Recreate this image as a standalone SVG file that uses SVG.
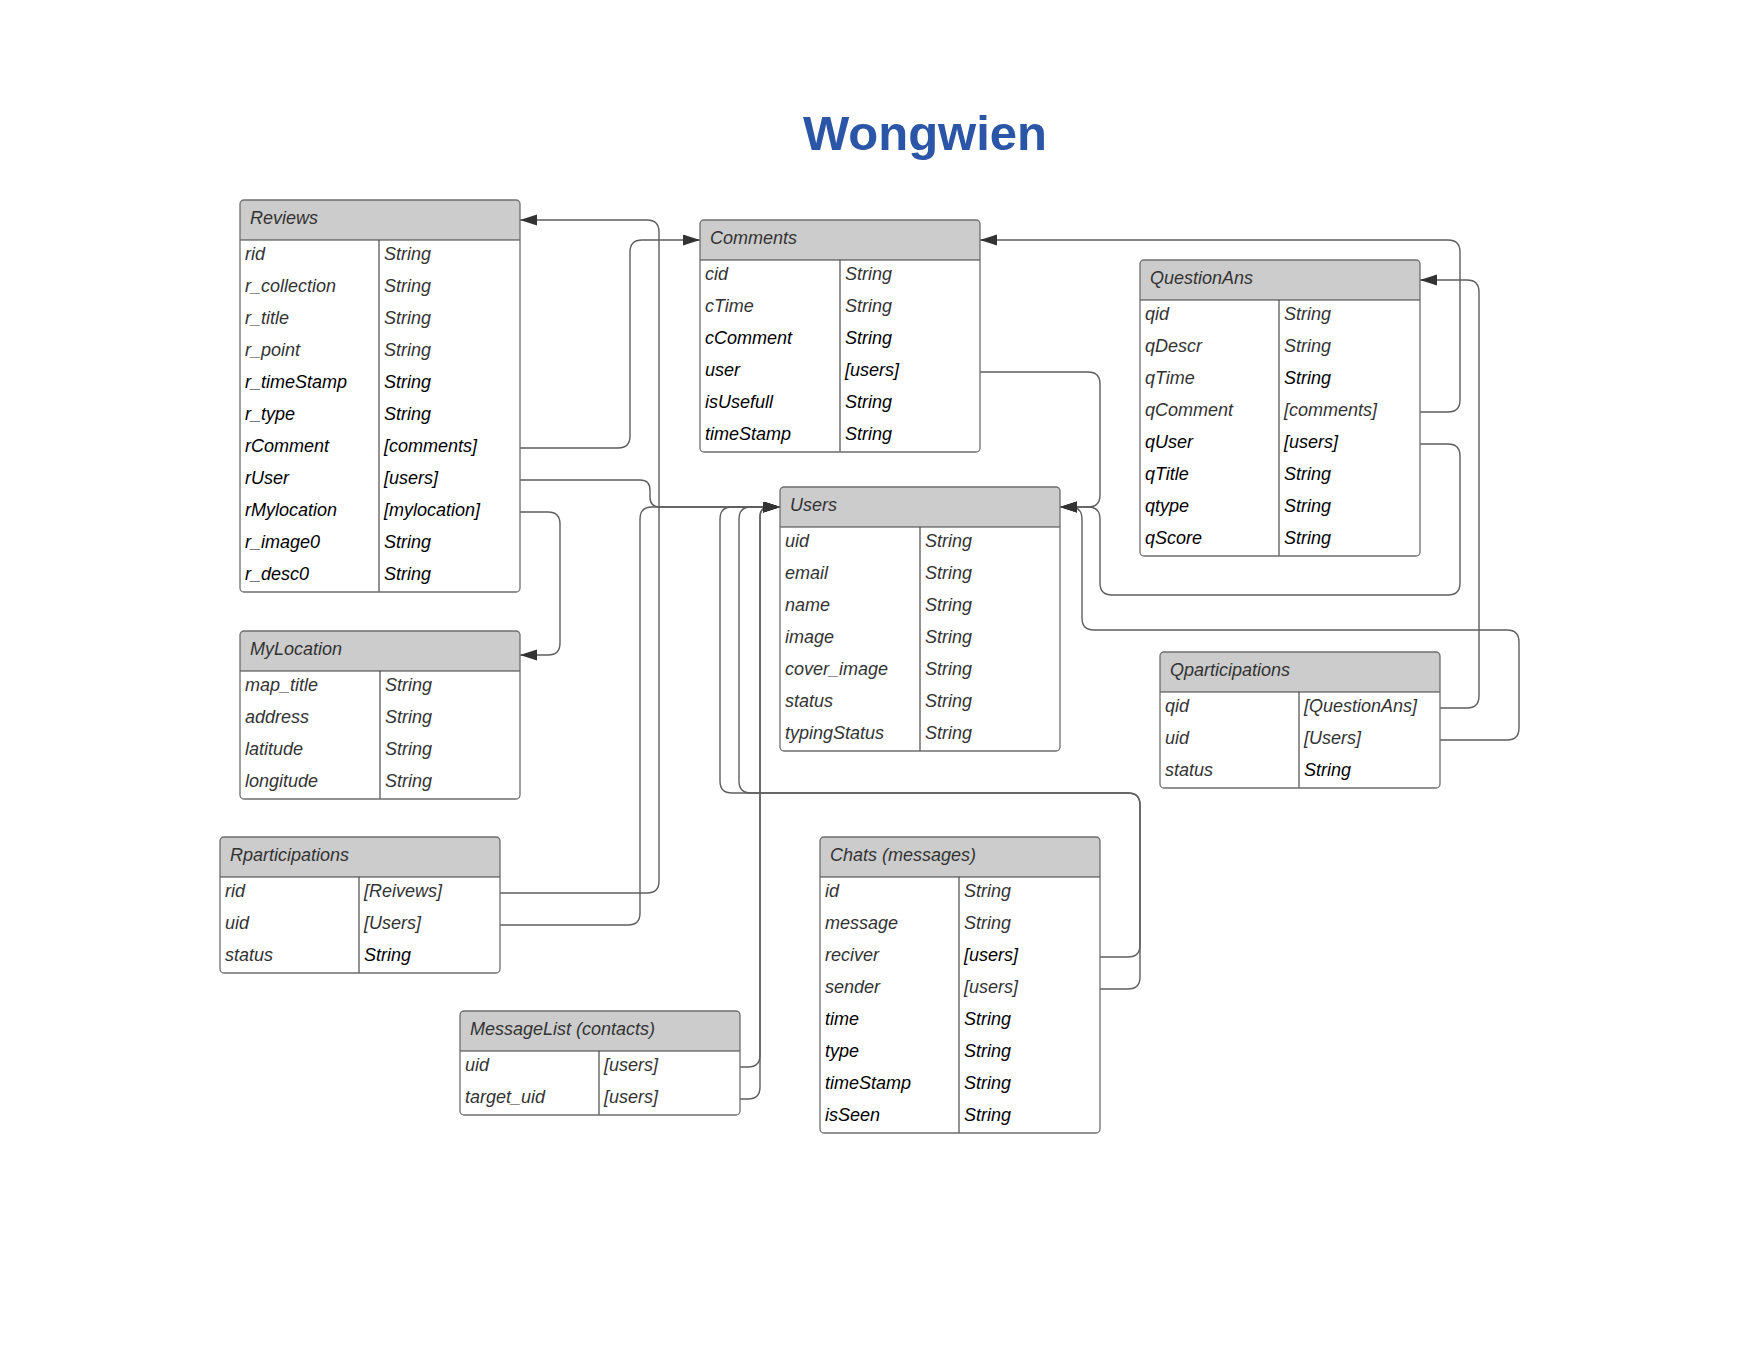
<svg xmlns="http://www.w3.org/2000/svg" width="1760" height="1360" viewBox="0 0 1760 1360">
<style>
.bg{fill:#fff}
.box{fill:#fff;stroke:none}
.out{fill:none;stroke:#6e6e6e;stroke-width:1.3}
.hdr{fill:#cccccc}
.ln{stroke:#3a3a3a;stroke-width:1.1}
text{font-family:"Liberation Sans",Arial,sans-serif;font-size:18px;font-style:italic}
.h{fill:#333}
.g{fill:#333}
.k{fill:#000}
.title{font-size:49px;font-weight:bold;font-style:normal;fill:#2b55a6}
.conn path{fill:none;stroke:#5e5e5e;stroke-width:1.4;marker-end:url(#arr)}
</style>
<defs>
<marker id="arr" markerUnits="userSpaceOnUse" markerWidth="18" markerHeight="12" refX="17" refY="5.5" orient="auto">
<path d="M0,0 L17,5.5 L0,11 Z" fill="#333"/>
</marker>
</defs>
<rect class="bg" x="0" y="0" width="1760" height="1360"/>
<text class="title" x="925" y="150" text-anchor="middle">Wongwien</text>

<g id="connectors" class="conn">
<path d="M520,448 H618 Q630,448 630,436 V252 Q630,240 642,240 H700"/>
<path d="M500,893 H647 Q659,893 659,881 V232 Q659,220 647,220 H520"/>
<path d="M500,925 H628 Q640,925 640,913 V519 Q640,507 652,507 H780"/>
<path d="M520,480 H640 Q650,480 650,490 V497 Q650,507 660,507 H780"/>
<path d="M520,512 H548 Q560,512 560,524 V643 Q560,655 548,655 H520"/>
<path d="M1100,957 H1128 Q1140,957 1140,945 V805 Q1140,793 1128,793 H732 Q720,793 720,781 V519 Q720,507 732,507 H780"/>
<path d="M1100,989 H1128 Q1140,989 1140,977 V805 Q1140,793 1128,793 H751 Q739,793 739,781 V519 Q739,507 751,507 H780"/>
<path d="M740,1067 H748 Q760,1067 760,1055 V517 Q760,507 770,507 H780"/>
<path d="M740,1099 H748 Q760,1099 760,1087 V517 Q760,507 770,507 H780"/>
<path d="M980,372 H1088 Q1100,372 1100,384 V495 Q1100,507 1088,507 H1060"/>
<path d="M1420,412 H1448 Q1460,412 1460,400 V252 Q1460,240 1448,240 H980"/>
<path d="M1420,444 H1448 Q1460,444 1460,456 V583 Q1460,595 1448,595 H1112 Q1100,595 1100,583 V519 Q1100,507 1088,507 H1060"/>
<path d="M1440,740 H1507 Q1519,740 1519,728 V642 Q1519,630 1507,630 H1094 Q1082,630 1082,618 V519 Q1082,507 1070,507 H1060"/>
<path d="M1440,708 H1467 Q1479,708 1479,696 V292 Q1479,280 1467,280 H1420"/>
</g>

<g id="reviews">
<rect class="box" x="240" y="200" width="280" height="392" rx="4"/>
<path class="hdr" d="M240,240 V204 Q240,200 244,200 H516 Q520,200 520,204 V240 Z"/>
<line class="ln" x1="240" y1="240" x2="520" y2="240"/>
<line class="ln" x1="379" y1="240" x2="379" y2="592"/>
<rect class="out" x="240" y="200" width="280" height="392" rx="4"/>
<text class="h" x="250" y="224">Reviews</text>
<text class="g" x="245" y="260">rid</text><text class="g" x="384" y="260">String</text>
<text class="g" x="245" y="292">r_collection</text><text class="g" x="384" y="292">String</text>
<text class="g" x="245" y="324">r_title</text><text class="g" x="384" y="324">String</text>
<text class="g" x="245" y="356">r_point</text><text class="g" x="384" y="356">String</text>
<text class="k" x="245" y="388">r_timeStamp</text><text class="k" x="384" y="388">String</text>
<text class="k" x="245" y="420">r_type</text><text class="k" x="384" y="420">String</text>
<text class="k" x="245" y="452">rComment</text><text class="k" x="384" y="452">[comments]</text>
<text class="k" x="245" y="484">rUser</text><text class="k" x="384" y="484">[users]</text>
<text class="k" x="245" y="516">rMylocation</text><text class="k" x="384" y="516">[mylocation]</text>
<text class="k" x="245" y="548">r_image0</text><text class="k" x="384" y="548">String</text>
<text class="k" x="245" y="580">r_desc0</text><text class="k" x="384" y="580">String</text>
</g>

<g id="comments">
<rect class="box" x="700" y="220" width="280" height="232" rx="4"/>
<path class="hdr" d="M700,260 V224 Q700,220 704,220 H976 Q980,220 980,224 V260 Z"/>
<line class="ln" x1="700" y1="260" x2="980" y2="260"/>
<line class="ln" x1="840" y1="260" x2="840" y2="452"/>
<rect class="out" x="700" y="220" width="280" height="232" rx="4"/>
<text class="h" x="710" y="244">Comments</text>
<text class="g" x="705" y="280">cid</text><text class="g" x="845" y="280">String</text>
<text class="g" x="705" y="312">cTime</text><text class="g" x="845" y="312">String</text>
<text class="k" x="705" y="344">cComment</text><text class="k" x="845" y="344">String</text>
<text class="k" x="705" y="376">user</text><text class="k" x="845" y="376">[users]</text>
<text class="k" x="705" y="408">isUsefull</text><text class="k" x="845" y="408">String</text>
<text class="k" x="705" y="440">timeStamp</text><text class="k" x="845" y="440">String</text>
</g>

<g id="questionans">
<rect class="box" x="1140" y="260" width="280" height="296" rx="4"/>
<path class="hdr" d="M1140,300 V264 Q1140,260 1144,260 H1416 Q1420,260 1420,264 V300 Z"/>
<line class="ln" x1="1140" y1="300" x2="1420" y2="300"/>
<line class="ln" x1="1279" y1="300" x2="1279" y2="556"/>
<rect class="out" x="1140" y="260" width="280" height="296" rx="4"/>
<text class="h" x="1150" y="284">QuestionAns</text>
<text class="g" x="1145" y="320">qid</text><text class="g" x="1284" y="320">String</text>
<text class="g" x="1145" y="352">qDescr</text><text class="g" x="1284" y="352">String</text>
<text class="g" x="1145" y="384">qTime</text><text class="k" x="1284" y="384">String</text>
<text class="g" x="1145" y="416">qComment</text><text class="g" x="1284" y="416">[comments]</text>
<text class="k" x="1145" y="448">qUser</text><text class="k" x="1284" y="448">[users]</text>
<text class="k" x="1145" y="480">qTitle</text><text class="k" x="1284" y="480">String</text>
<text class="k" x="1145" y="512">qtype</text><text class="k" x="1284" y="512">String</text>
<text class="k" x="1145" y="544">qScore</text><text class="k" x="1284" y="544">String</text>
</g>

<g id="users">
<rect class="box" x="780" y="487" width="280" height="264" rx="4"/>
<path class="hdr" d="M780,527 V491 Q780,487 784,487 H1056 Q1060,487 1060,491 V527 Z"/>
<line class="ln" x1="780" y1="527" x2="1060" y2="527"/>
<line class="ln" x1="920" y1="527" x2="920" y2="751"/>
<rect class="out" x="780" y="487" width="280" height="264" rx="4"/>
<text class="h" x="790" y="511">Users</text>
<text class="g" x="785" y="547">uid</text><text class="g" x="925" y="547">String</text>
<text class="g" x="785" y="579">email</text><text class="g" x="925" y="579">String</text>
<text class="g" x="785" y="611">name</text><text class="g" x="925" y="611">String</text>
<text class="g" x="785" y="643">image</text><text class="g" x="925" y="643">String</text>
<text class="g" x="785" y="675">cover_image</text><text class="g" x="925" y="675">String</text>
<text class="g" x="785" y="707">status</text><text class="g" x="925" y="707">String</text>
<text class="g" x="785" y="739">typingStatus</text><text class="g" x="925" y="739">String</text>
</g>

<g id="mylocation">
<rect class="box" x="240" y="631" width="280" height="168" rx="4"/>
<path class="hdr" d="M240,671 V635 Q240,631 244,631 H516 Q520,631 520,635 V671 Z"/>
<line class="ln" x1="240" y1="671" x2="520" y2="671"/>
<line class="ln" x1="380" y1="671" x2="380" y2="799"/>
<rect class="out" x="240" y="631" width="280" height="168" rx="4"/>
<text class="h" x="250" y="655">MyLocation</text>
<text class="g" x="245" y="691">map_title</text><text class="g" x="385" y="691">String</text>
<text class="g" x="245" y="723">address</text><text class="g" x="385" y="723">String</text>
<text class="g" x="245" y="755">latitude</text><text class="g" x="385" y="755">String</text>
<text class="g" x="245" y="787">longitude</text><text class="g" x="385" y="787">String</text>
</g>

<g id="rparticipations">
<rect class="box" x="220" y="837" width="280" height="136" rx="4"/>
<path class="hdr" d="M220,877 V841 Q220,837 224,837 H496 Q500,837 500,841 V877 Z"/>
<line class="ln" x1="220" y1="877" x2="500" y2="877"/>
<line class="ln" x1="359" y1="877" x2="359" y2="973"/>
<rect class="out" x="220" y="837" width="280" height="136" rx="4"/>
<text class="h" x="230" y="861">Rparticipations</text>
<text class="g" x="225" y="897">rid</text><text class="g" x="364" y="897">[Reivews]</text>
<text class="g" x="225" y="929">uid</text><text class="g" x="364" y="929">[Users]</text>
<text class="g" x="225" y="961">status</text><text class="k" x="364" y="961">String</text>
</g>

<g id="qparticipations">
<rect class="box" x="1160" y="652" width="280" height="136" rx="4"/>
<path class="hdr" d="M1160,692 V656 Q1160,652 1164,652 H1436 Q1440,652 1440,656 V692 Z"/>
<line class="ln" x1="1160" y1="692" x2="1440" y2="692"/>
<line class="ln" x1="1299" y1="692" x2="1299" y2="788"/>
<rect class="out" x="1160" y="652" width="280" height="136" rx="4"/>
<text class="h" x="1170" y="676">Qparticipations</text>
<text class="g" x="1165" y="712">qid</text><text class="g" x="1304" y="712">[QuestionAns]</text>
<text class="g" x="1165" y="744">uid</text><text class="g" x="1304" y="744">[Users]</text>
<text class="g" x="1165" y="776">status</text><text class="k" x="1304" y="776">String</text>
</g>

<g id="chats">
<rect class="box" x="820" y="837" width="280" height="296" rx="4"/>
<path class="hdr" d="M820,877 V841 Q820,837 824,837 H1096 Q1100,837 1100,841 V877 Z"/>
<line class="ln" x1="820" y1="877" x2="1100" y2="877"/>
<line class="ln" x1="959" y1="877" x2="959" y2="1133"/>
<rect class="out" x="820" y="837" width="280" height="296" rx="4"/>
<text class="h" x="830" y="861">Chats (messages)</text>
<text class="g" x="825" y="897">id</text><text class="g" x="964" y="897">String</text>
<text class="g" x="825" y="929">message</text><text class="g" x="964" y="929">String</text>
<text class="g" x="825" y="961">reciver</text><text class="k" x="964" y="961">[users]</text>
<text class="g" x="825" y="993">sender</text><text class="g" x="964" y="993">[users]</text>
<text class="k" x="825" y="1025">time</text><text class="k" x="964" y="1025">String</text>
<text class="k" x="825" y="1057">type</text><text class="k" x="964" y="1057">String</text>
<text class="k" x="825" y="1089">timeStamp</text><text class="k" x="964" y="1089">String</text>
<text class="k" x="825" y="1121">isSeen</text><text class="k" x="964" y="1121">String</text>
</g>

<g id="messagelist">
<rect class="box" x="460" y="1011" width="280" height="104" rx="4"/>
<path class="hdr" d="M460,1051 V1015 Q460,1011 464,1011 H736 Q740,1011 740,1015 V1051 Z"/>
<line class="ln" x1="460" y1="1051" x2="740" y2="1051"/>
<line class="ln" x1="599" y1="1051" x2="599" y2="1115"/>
<rect class="out" x="460" y="1011" width="280" height="104" rx="4"/>
<text class="h" x="470" y="1035">MessageList (contacts)</text>
<text class="g" x="465" y="1071">uid</text><text class="g" x="604" y="1071">[users]</text>
<text class="g" x="465" y="1103">target_uid</text><text class="g" x="604" y="1103">[users]</text>
</g>
</svg>
